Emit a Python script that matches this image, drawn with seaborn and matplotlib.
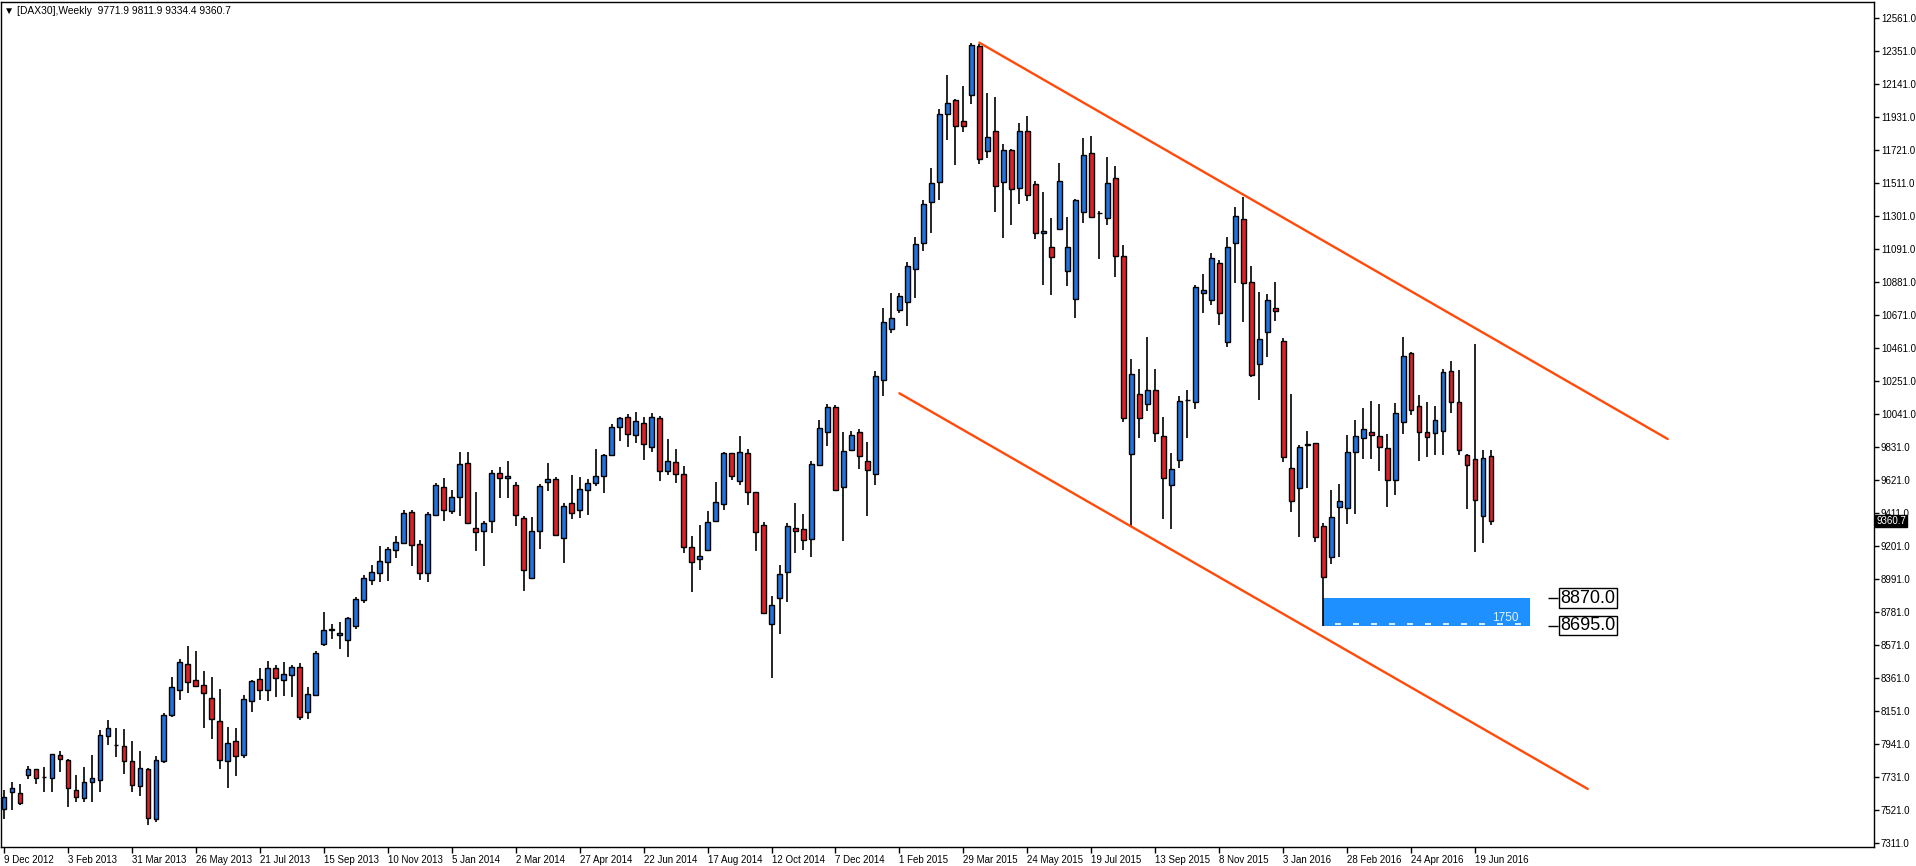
import numpy as np
import pandas as pd
import matplotlib
matplotlib.use("Agg")
import matplotlib.pyplot as plt
import seaborn as sns
from matplotlib.patches import Rectangle

# weekly DAX30 candles, 9 Dec 2012 .. 26 Jun 2016
opens = [7525, 7633, 7627, 7742, 7780, 7731, 7723, 7869, 7837, 7646,
         7595, 7697, 7710, 7990, 7935, 7926, 7831, 7672, 7780, 7462,
         7831, 8123, 8283, 8448, 8346, 8314, 8232, 8085, 7831, 7958,
         7869, 8213, 8353, 8283, 8423, 8346, 8378, 8429, 8143, 8251,
         8575, 8668, 8632, 8601, 8690, 8855, 8983, 9027, 9097, 9173,
         9218, 9415, 9212, 9027, 9400, 9574, 9422, 9511, 9727, 9313,
         9294, 9358, 9663, 9632, 9587, 9377, 8995, 9294, 9606, 9625,
         9250, 9472, 9428, 9555, 9600, 9644, 9778, 9956, 10020, 9905,
         9982, 9829, 10013, 9676, 9733, 9657, 9192, 9116, 9173, 9358,
         9466, 9791, 9612, 9791, 9543, 9332, 8702, 8868, 9033, 9313,
         9307, 9243, 9714, 9924, 10083, 9574, 9810, 9924, 9740, 9657,
         10255, 10580, 10703, 10757, 10962, 11132, 11391, 11519, 11948, 12037,
         11903, 12073, 12382, 11712, 11839, 11519, 11719, 11478, 11839, 11503,
         11196, 11103, 11216, 10948, 10771, 11326, 11701, 11321, 11287, 11541,
         11044, 9785, 10166, 10103, 10191, 9898, 9587, 9746, 10128, 10116,
         10810, 10764, 11000, 10497, 11127, 11280, 10879, 10357, 10561, 10713,
         10503, 9695, 9568, 9846, 9854, 9326, 9129, 9447, 9441, 9797,
         9886, 9924, 9899, 9822, 9619, 9988, 10427, 10090, 9924, 9918,
         9931, 10312, 10115, 9778, 9752, 9390, 9771.9]
highs = [7648, 7699, 7686, 7801, 7784, 7795, 7880, 7897, 7846, 7744,
         7795, 7871, 8030, 8092, 8041, 8034, 7958, 7894, 7786, 7863,
         8136, 8365, 8482, 8565, 8533, 8403, 8365, 8289, 8047, 8041,
         8251, 8346, 8423, 8467, 8442, 8461, 8442, 8454, 8302, 8531,
         8781, 8705, 8715, 8751, 8874, 9014, 9078, 9199, 9193, 9262,
         9428, 9428, 9237, 9415, 9600, 9632, 9555, 9797, 9797, 9543,
         9358, 9682, 9702, 9740, 9606, 9390, 9383, 9593, 9727, 9638,
         9472, 9651, 9638, 9625, 9816, 9784, 9975, 10020, 10039, 10052,
         10020, 10045, 10026, 9880, 9816, 9708, 9262, 9332, 9422, 9606,
         9797, 9795, 9899, 9816, 9547, 9352, 8881, 9078, 9345, 9472,
         9403, 9740, 10001, 10103, 10096, 9924, 9931, 9943, 9861, 10313,
         10713, 10810, 10810, 11007, 11166, 11401, 11605, 11980, 12196, 12046,
         12128, 12401, 12398, 12082, 12057, 11757, 11728, 11896, 11937, 11523,
         11457, 11287, 11641, 11294, 11410, 11796, 11810, 11330, 11676, 11619,
         11116, 10391, 10328, 10530, 10328, 10021, 9791, 10155, 10194, 10862,
         10930, 11064, 11019, 11165, 11356, 11424, 10983, 10815, 10802, 10879,
         10522, 10166, 9842, 9931, 9859, 9345, 9557, 9596, 9905, 10001,
         10077, 10122, 10103, 9912, 10109, 10529, 10433, 10160, 10115, 10090,
         10325, 10376, 10319, 9784, 10484, 9810, 9811.9]
lows = [7462, 7521, 7555, 7720, 7689, 7638, 7638, 7765, 7542, 7574,
        7570, 7570, 7638, 7937, 7860, 7752, 7638, 7612, 7423, 7443,
        7818, 8111, 8219, 8263, 8302, 8041, 7971, 7780, 7659, 7735,
        7850, 8143, 8219, 8213, 8238, 8244, 8238, 8092, 8098, 8251,
        8565, 8607, 8548, 8493, 8671, 8836, 8955, 8970, 8980, 9123,
        9218, 9072, 8987, 8970, 9396, 9358, 9403, 9390, 9339, 9167,
        9072, 9282, 9504, 9504, 9326, 8913, 8995, 9180, 9549, 9263,
        9091, 9371, 9377, 9396, 9581, 9536, 9778, 9871, 9833, 9859,
        9750, 9801, 9617, 9651, 9600, 9154, 8906, 9046, 9167, 9358,
        9428, 9619, 9587, 9460, 9167, 8768, 8359, 8643, 8842, 9154,
        9173, 9129, 9708, 9835, 9549, 9231, 9810, 9689, 9390, 9587,
        10153, 10554, 10682, 10598, 10780, 11080, 11194, 11405, 11787, 11628,
        11837, 12016, 11635, 11673, 11326, 11164, 11244, 11378, 11398, 11155,
        10864, 10801, 11216, 10857, 10655, 11257, 11287, 11030, 11246, 10914,
        9989, 9325, 9889, 10062, 9860, 9371, 9307, 9700, 9889, 10071,
        10687, 10732, 10610, 10470, 10873, 10629, 10274, 10128, 10402, 10631,
        9733, 9415, 9260, 9568, 9228, 8695, 9084, 9129, 9339, 9403,
        9753, 9757, 9676, 9447, 9523, 9912, 10032, 9740, 9765, 9778,
        9778, 10045, 9778, 9434, 9161, 9218, 9334.4]
closes = [7602, 7659, 7564, 7780, 7722, 7729, 7875, 7843, 7659, 7602,
          7697, 7723, 7996, 8041, 7937, 7831, 7678, 7786, 7468, 7837,
          8123, 8302, 8461, 8333, 8308, 8263, 8098, 7837, 7945, 7863,
          8225, 8340, 8283, 8423, 8359, 8384, 8429, 8111, 8257, 8518,
          8664, 8672, 8645, 8741, 8862, 8995, 9033, 9103, 9180, 9224,
          9409, 9205, 9027, 9403, 9587, 9428, 9511, 9721, 9345, 9288,
          9345, 9663, 9632, 9644, 9396, 9046, 9294, 9581, 9625, 9269,
          9453, 9409, 9562, 9600, 9644, 9778, 9956, 10013, 9912, 9994,
          9848, 10020, 9676, 9740, 9657, 9192, 9097, 9135, 9352, 9479,
          9791, 9644, 9797, 9543, 9288, 8772, 8823, 9021, 9326, 9294,
          9237, 9721, 9950, 10083, 9555, 9803, 9905, 9772, 9683, 10281,
          10624, 10650, 10791, 10980, 11121, 11376, 11514, 11948, 12023, 11876,
          11876, 12387, 11662, 11807, 11489, 11719, 11471, 11839, 11437, 11196,
          11207, 11039, 11521, 11107, 11401, 11687, 11294, 11318, 11514, 11044,
          10014, 10294, 10014, 10191, 9923, 9632, 9689, 10121, 10130, 10848,
          10828, 11032, 10682, 11102, 11299, 10873, 10287, 10516, 10764, 10694,
          9765, 9485, 9829, 9849, 9256, 9002, 9383, 9485, 9797, 9899,
          9943, 9905, 9829, 9619, 10045, 10408, 10064, 9924, 9892, 10001,
          10306, 10115, 9810, 9714, 9492, 9759, 9360.7]

date_labels = ["9 Dec 2012", "3 Feb 2013", "31 Mar 2013", "26 May 2013", "21 Jul 2013",
               "15 Sep 2013", "10 Nov 2013", "5 Jan 2014", "2 Mar 2014", "27 Apr 2014",
               "22 Jun 2014", "17 Aug 2014", "12 Oct 2014", "7 Dec 2014", "1 Feb 2015",
               "29 Mar 2015", "24 May 2015", "19 Jul 2015", "13 Sep 2015", "8 Nov 2015",
               "3 Jan 2016", "28 Feb 2016", "24 Apr 2016", "19 Jun 2016"]
label_every = 8

price_ticks = np.arange(7311.0, 12562.0, 210.0)

# channel lines: (bar index, price) end points
upper_bar = [122.0, 208.1]
upper_price = [12404, 9882]
lower_bar = [112.0, 198.1]
lower_price = [10173, 7655]

# support zone
zone_bar = [165, 190.9]
zone_low, zone_high = 8695.0, 8870.0
zone_text = "1750"

title = "\u25bc [DAX30],Weekly  9771.9 9811.9 9334.4 9360.7"
last_price = 9360.7

df = pd.DataFrame({"open": opens, "high": highs, "low": lows, "close": closes})
df["bar"] = np.arange(len(df))
df["up"] = df["close"] >= df["open"]

sns.set_theme(style="white")
plt.rcParams["font.family"] = ["Liberation Sans", "DejaVu Sans"]

W, H = 1916, 866
fig = plt.figure(figsize=(W / 100, H / 100), dpi=100)
ax = fig.add_axes([1 / W, 19 / H, 1873 / W, 845 / H])
ax.set_facecolor("white")

blue = "#2272d8"
red = "#d92328"

# zone under candles
ax.add_patch(Rectangle((zone_bar[0], zone_low), zone_bar[1] - zone_bar[0], zone_high - zone_low,
                       facecolor="#1e90ff", edgecolor="none", zorder=1))
ax.hlines(zone_low + 8, zone_bar[0] + 1.5, zone_bar[1] - 1, colors="white", lw=1.2,
          linestyles=(0, (3.6, 7.2)), zorder=1.5)
ax.text(zone_bar[1] - 1.4, zone_low + 8, zone_text, color="#e8f2ff", ha="right", va="bottom",
        fontsize=8.5, zorder=2)

# wicks + bodies
ax.vlines(df["bar"], df["low"], df["high"], colors="black", lw=1.2, zorder=3)
body_bottom = df[["open", "close"]].min(axis=1)
body_h = (df["close"] - df["open"]).abs()
ax.bar(df["bar"], body_h, bottom=body_bottom, width=0.6,
       color=np.where(df["up"], blue, red), edgecolor="black", linewidth=1.0, zorder=4)

# channel
sns.lineplot(x=upper_bar, y=upper_price, color="#ff4a0a", lw=1.7, ax=ax, zorder=5)
sns.lineplot(x=lower_bar, y=lower_price, color="#ff4a0a", lw=1.7, ax=ax, zorder=5)

# zone price labels
for p in (zone_high, zone_low):
    ax.hlines(p, zone_bar[1] + 2.2, zone_bar[1] + 3.5, colors="black", lw=1, zorder=5)
    ax.text(zone_bar[1] + 3.8, p, "%.1f" % p, ha="left", va="center", fontsize=13,
            color="black", zorder=6,
            bbox=dict(boxstyle="square,pad=0.08", facecolor="white", edgecolor="black", lw=1))

ax.set_xlim(-0.375, 233.9)
ax.set_ylim(7285.6, 12663)

# axes
ax.yaxis.tick_right()
ax.set_yticks(price_ticks)
ax.set_yticklabels(["%.1f" % t for t in price_ticks])
ax.tick_params(axis="y", which="both", right=True, left=False, direction="out", length=3.5,
               width=1, pad=1.5, labelsize=7, colors="black")
xt = np.arange(len(date_labels)) * label_every
ax.set_xticks(xt)
ax.set_xticklabels(date_labels)
ax.tick_params(axis="x", bottom=True, direction="out", length=4, width=1, pad=1.5,
               labelsize=7, colors="black")
for lab in ax.get_xticklabels():
    lab.set_ha("left")
for s in ax.spines.values():
    s.set_color("black")
    s.set_linewidth(1)
ax.grid(False)
ax.set_xlabel("")
ax.set_ylabel("")

ax.text(1.0012, last_price, "%.1f" % last_price, transform=ax.get_yaxis_transform(),
        ha="left", va="center", fontsize=7, color="white", zorder=10, clip_on=False,
        bbox=dict(boxstyle="square,pad=0.1", facecolor="black", edgecolor="black"))

ax.text(3 / 1873, 1 - 4 / 845, title, transform=ax.transAxes, ha="left", va="top",
        fontsize=7.4, color="black")

fig.savefig("out.png", dpi=100, facecolor="white")
